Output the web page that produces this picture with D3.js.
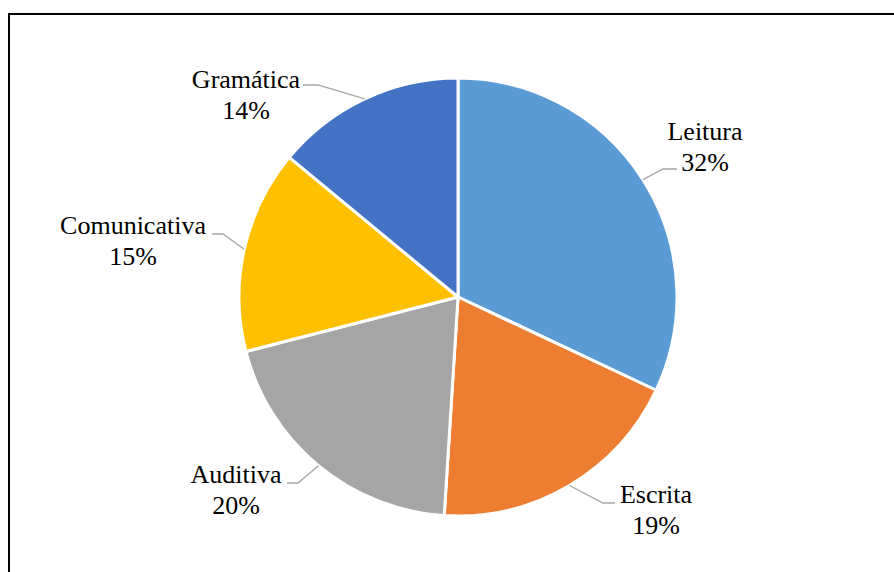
<!DOCTYPE html>
<html lang="pt">
<head>
<meta charset="UTF-8">
<title>Competências</title>
<script src="https://d3js.org/d3.v7.min.js"></script>
<style>
  body { margin: 0; background: #fff; }
  .lbl { font-family: 'Liberation Serif', 'DejaVu Serif', Times, serif; font-size: 26px; fill: #000; }
  .leader { fill: none; stroke: #a6a6a6; stroke-width: 1.3; }
</style>
</head>
<body>
<svg id="chart"></svg>
<script>
// dados
var categories = ["Leitura", "Escrita", "Auditiva", "Comunicativa", "Gramática"];
var values = [32, 19, 20, 15, 14];
var colors = ["#5b9bd5", "#ed7d31", "#a5a5a5", "#ffc000", "#4472c4"];

// posição dos rótulos (centro do texto) e do cotovelo da linha guia
var labelLayout = [
  { x: 705, y: 140, hx0: 677, hx1: 663, hy: 169 },
  { x: 656, y: 503, hx0: 615, hx1: 603, hy: 503 },
  { x: 236, y: 483, hx0: 287, hx1: 298, hy: 483 },
  { x: 133, y: 234, hx0: 212, hx1: 223, hy: 234 },
  { x: 246, y: 88,  hx0: 303, hx1: 318, hy: 85 }
];

var width = 894, height = 572;
var cx = 458, cy = 297, radius = 219;

var svg = d3.select("#chart").attr("width", width).attr("height", height);

// moldura
svg.append("rect")
  .attr("x", 9).attr("y", 14)
  .attr("width", 920).attr("height", 620)
  .attr("fill", "none").attr("stroke", "#000").attr("stroke-width", 2);

var data = categories.map(function(c, i) { return { cat: c, val: values[i], i: i }; });

var pie = d3.pie().sort(null).value(function(d) { return d.val; });
var arc = d3.arc().innerRadius(0).outerRadius(radius);
var arcs = pie(data);

var g = svg.append("g").attr("transform", "translate(" + cx + "," + cy + ")");

g.selectAll("path.slice")
  .data(arcs)
  .enter()
  .append("path")
  .attr("class", "slice")
  .attr("d", arc)
  .attr("fill", function(d) { return colors[d.data.i]; })
  .attr("stroke", "#fff")
  .attr("stroke-width", 3)
  .attr("stroke-linejoin", "round");

// linhas guia
svg.selectAll("polyline.leader")
  .data(arcs)
  .enter()
  .append("polyline")
  .attr("class", "leader")
  .attr("points", function(d) {
    var L = labelLayout[d.data.i];
    var a = (d.startAngle + d.endAngle) / 2;
    var ex = cx + radius * Math.sin(a), ey = cy - radius * Math.cos(a);
    return [[L.hx0, L.hy], [L.hx1, L.hy], [ex, ey]].map(function(p) { return p.join(","); }).join(" ");
  });

// rótulos
var total = d3.sum(values);
var lbl = svg.selectAll("text.lbl")
  .data(arcs)
  .enter()
  .append("text")
  .attr("class", "lbl")
  .style("font-family", "'Liberation Serif', 'DejaVu Serif', serif")
  .attr("text-anchor", "middle");

lbl.append("tspan")
  .attr("x", function(d) { return labelLayout[d.data.i].x; })
  .attr("y", function(d) { return labelLayout[d.data.i].y; })
  .text(function(d) { return d.data.cat; });

lbl.append("tspan")
  .attr("x", function(d) { return labelLayout[d.data.i].x; })
  .attr("y", function(d) { return labelLayout[d.data.i].y + 31; })
  .text(function(d) { return Math.round(d.data.val / total * 100) + "%"; });
</script>
</body>
</html>
